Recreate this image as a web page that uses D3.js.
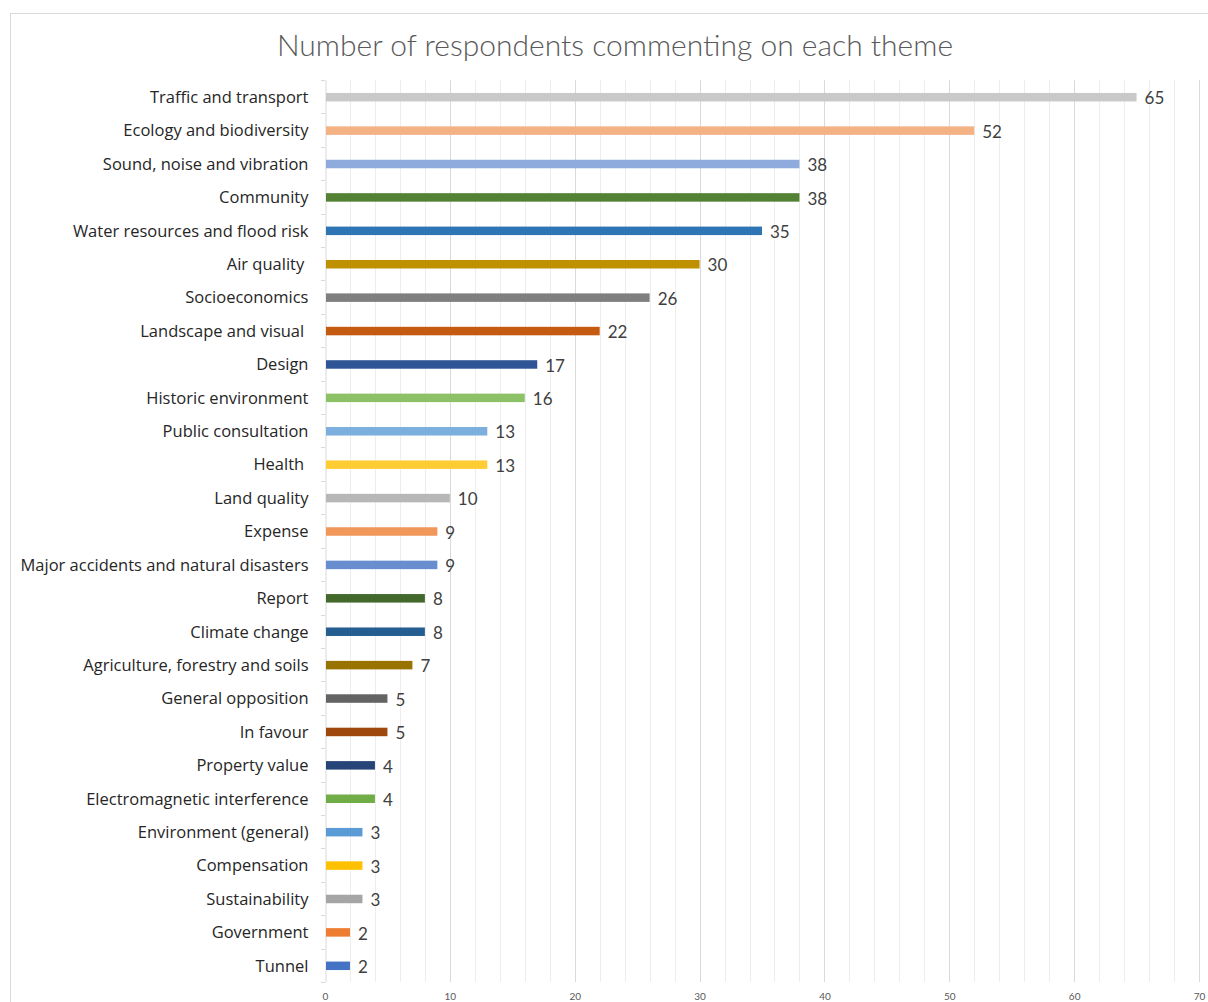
<!DOCTYPE html>
<html>
<head>
<meta charset="utf-8">
<script src="https://cdn.jsdelivr.net/npm/d3@7"></script>
<style>
  html, body { margin: 0; padding: 0; background: #fff; }
  svg { display: block; }
</style>
</head>
<body>
<svg id="chart" width="1208" height="1002"></svg>
<script>
// Themes, top to bottom
const themes = [
  "Traffic and transport", "Ecology and biodiversity", "Sound, noise and vibration",
  "Community", "Water resources and flood risk", "Air quality ", "Socioeconomics",
  "Landscape and visual ", "Design", "Historic environment", "Public consultation",
  "Health ", "Land quality", "Expense", "Major accidents and natural disasters",
  "Report", "Climate change", "Agriculture, forestry and soils", "General opposition",
  "In favour", "Property value", "Electromagnetic interference", "Environment (general)",
  "Compensation", "Sustainability", "Government", "Tunnel"
];
const respondents = [65, 52, 38, 38, 35, 30, 26, 22, 17, 16, 13, 13, 10, 9, 9, 8, 8, 7, 5, 5, 4, 4, 3, 3, 3, 2, 2];
const barColors = [
  "#C9C9C9", "#F4B183", "#8FAADC", "#548235", "#2E75B6", "#BF9000", "#7F7F7F",
  "#C55A11", "#2F5597", "#8CC168", "#7CAFDD", "#FFCD33", "#B7B7B7", "#F1975A",
  "#698ED0", "#43682B", "#255E91", "#997300", "#636363", "#9E480E", "#264478",
  "#70AD47", "#5B9BD5", "#FFC000", "#A5A5A5", "#ED7D31", "#4472C4"
];
const xTicks = [0, 10, 20, 30, 40, 50, 60, 70];
const chartTitle = "Number of respondents commenting on each theme";

const svg = d3.select("#chart");
const W = 1208, H = 1002;
const plot = { left: 325, right: 1199, top: 80, bottom: 982 };

// chart area outline
svg.append("rect")
  .attr("x", 10.5).attr("y", 13.5)
  .attr("width", W + 10).attr("height", H + 10)
  .attr("fill", "#fff").attr("stroke", "#D9D9D9").attr("stroke-width", 1);

svg.append("text")
  .attr("x", 615).attr("y", 56)
  .attr("text-anchor", "middle")
  .style("font-family", "Lato, 'Open Sans', sans-serif")
  .attr("font-size", 30).attr("font-weight", 300)
  .attr("fill", "#595959")
  .text(chartTitle);

const x = d3.scaleLinear().domain([0, 70]).range([plot.left, plot.right]);
const y = d3.scaleBand().domain(themes).range([plot.top, plot.bottom]).paddingInner(0).paddingOuter(0);

// gridlines every 2 units
const grid = svg.append("g");
grid.selectAll("line")
  .data(d3.range(2, 71, 2))
  .join("line")
  .attr("x1", d => Math.round(x(d)) + 0.5).attr("x2", d => Math.round(x(d)) + 0.5)
  .attr("y1", plot.top).attr("y2", plot.bottom)
  .attr("stroke", d => d % 10 === 0 ? "#D9D9D9" : "#EDEDED")
  .attr("stroke-width", 1);

// category axis (trailing spaces in some theme names are kept)
const yAxis = d3.axisLeft(y).tickSize(0).tickPadding(17);
const gy = svg.append("g").attr("transform", `translate(${plot.left + 0.5},0)`).call(yAxis);
gy.select(".domain").attr("stroke", "#D9D9D9");
gy.selectAll(".tick text")
  .style("font-family", "'Open Sans', Lato, sans-serif")
  .style("font-size", "16.5px")
  .style("white-space", "pre")
  .attr("fill", "#262626")
  .attr("dy", "0.38em");
// boundary tick marks between categories
svg.append("g").selectAll("line")
  .data(d3.range(themes.length + 1))
  .join("line")
  .attr("x1", plot.left - 4).attr("x2", plot.left)
  .attr("y1", i => Math.round(plot.top + i * y.step()) + 0.5)
  .attr("y2", i => Math.round(plot.top + i * y.step()) + 0.5)
  .attr("stroke", "#D9D9D9");

// value axis
const xAxis = d3.axisBottom(x).tickValues(xTicks).tickSize(0).tickPadding(11);
const gx = svg.append("g").attr("transform", `translate(0,${plot.bottom})`).call(xAxis);
gx.select(".domain").remove();
gx.selectAll(".tick text")
  .style("font-family", "Lato, 'Open Sans', sans-serif")
  .style("font-size", "10px").attr("fill", "#595959");

// bars
const barH = 8.5;
const rows = themes.map((t, i) => ({ theme: t, value: respondents[i], color: barColors[i] }));
svg.append("g").selectAll("rect")
  .data(rows)
  .join("rect")
  .attr("x", x(0) + 1)
  .attr("y", d => y(d.theme) + y.bandwidth() / 2 - barH / 2 + 0.5)
  .attr("width", d => x(d.value) - x(0) - 1)
  .attr("height", barH)
  .attr("fill", d => d.color);

// value labels
svg.append("g").selectAll("text")
  .data(rows)
  .join("text")
  .attr("x", d => x(d.value) + 8)
  .attr("y", d => y(d.theme) + y.bandwidth() / 2)
  .attr("dy", "0.45em")
  .style("font-family", "Lato, 'Open Sans', sans-serif")
  .style("font-size", "17px").attr("fill", "#404040")
  .text(d => d.value);
</script>
</body>
</html>
